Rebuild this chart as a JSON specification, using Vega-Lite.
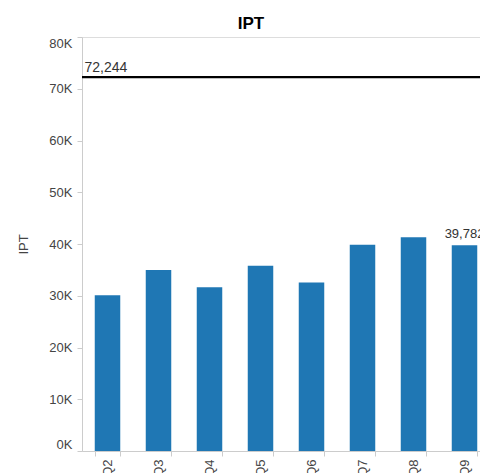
{
  "$schema": "https://vega.github.io/schema/vega-lite/v6.json",
  "autosize": "none",
  "width": 408,
  "height": 414,
  "padding": {"left": 82, "top": 37, "right": 0, "bottom": 40},
  "title": {"text": "IPT", "fontSize": 17, "fontWeight": "bold", "font": "Liberation Sans", "color": "#000", "anchor": "middle", "frame": "group", "dx": -35, "dy": 19, "offset": 10, "baseline": "alphabetic"},
  "config": {"font": "Liberation Sans", "view": {"stroke": "#ddd"}},
  "datasets": {
    "ipt": [
      {"quarter": "Q2", "IPT": 30100},
      {"quarter": "Q3", "IPT": 35000},
      {"quarter": "Q4", "IPT": 31650},
      {"quarter": "Q5", "IPT": 35800},
      {"quarter": "Q6", "IPT": 32550},
      {"quarter": "Q7", "IPT": 39850},
      {"quarter": "Q8", "IPT": 41300},
      {"quarter": "Q9", "IPT": 39782}
    ],
    "ref": [{"IPT": 72244}]
  },
  "layer": [
    {
      "data": {"name": "ipt"},
      "mark": {"type": "bar", "color": "#1f77b4"},
      "encoding": {
        "x": {"field": "quarter", "type": "nominal", "sort": null,
          "scale": {"paddingInner": 0.5, "paddingOuter": 0.25},
          "axis": {"title": null, "labelAngle": -90, "tickBand": "extent", "tickSize": 5, "labelPadding": 3, "labelFontSize": 13, "labelColor": "#444", "domainColor": "#ccc", "tickColor": "#ccc", "labelFont": "Liberation Sans"}},
        "y": {"field": "IPT", "type": "quantitative",
          "scale": {"domain": [0, 80000], "nice": false},
          "axis": {"title": "IPT", "values": [0, 10000, 20000, 30000, 40000, 50000, 60000, 70000, 80000], "labelExpr": "datum.value / 1000 + 'K'", "grid": false, "labelFlush": true, "tickSize": 5, "labelPadding": 5, "labelFontSize": 13, "labelColor": "#444", "domainColor": "#ccc", "tickColor": "#ccc", "titleFontSize": 13, "titleFontWeight": "normal", "titleColor": "#444", "titlePadding": 18, "labelFont": "Liberation Sans", "titleFont": "Liberation Sans"}}
      }
    },
    {
      "data": {"name": "ipt"},
      "transform": [{"filter": "datum.quarter == 'Q9'"}],
      "mark": {"type": "text", "fontSize": 13, "color": "#333", "baseline": "alphabetic", "dy": -7, "font": "Liberation Sans"},
      "encoding": {
        "x": {"field": "quarter", "type": "nominal", "sort": null},
        "y": {"field": "IPT", "type": "quantitative"},
        "text": {"field": "IPT", "type": "quantitative", "format": ","}
      }
    },
    {
      "data": {"name": "ref"},
      "mark": {"type": "rule", "color": "#000", "strokeWidth": 2.2},
      "encoding": {"y": {"field": "IPT", "type": "quantitative"}}
    },
    {
      "data": {"name": "ref"},
      "mark": {"type": "text", "fontSize": 14, "color": "#333", "align": "left", "baseline": "alphabetic", "dx": 2.5, "dy": -5, "font": "Liberation Sans"},
      "encoding": {
        "x": {"value": 0},
        "y": {"field": "IPT", "type": "quantitative"},
        "text": {"field": "IPT", "type": "quantitative", "format": ","}
      }
    }
  ]
}
